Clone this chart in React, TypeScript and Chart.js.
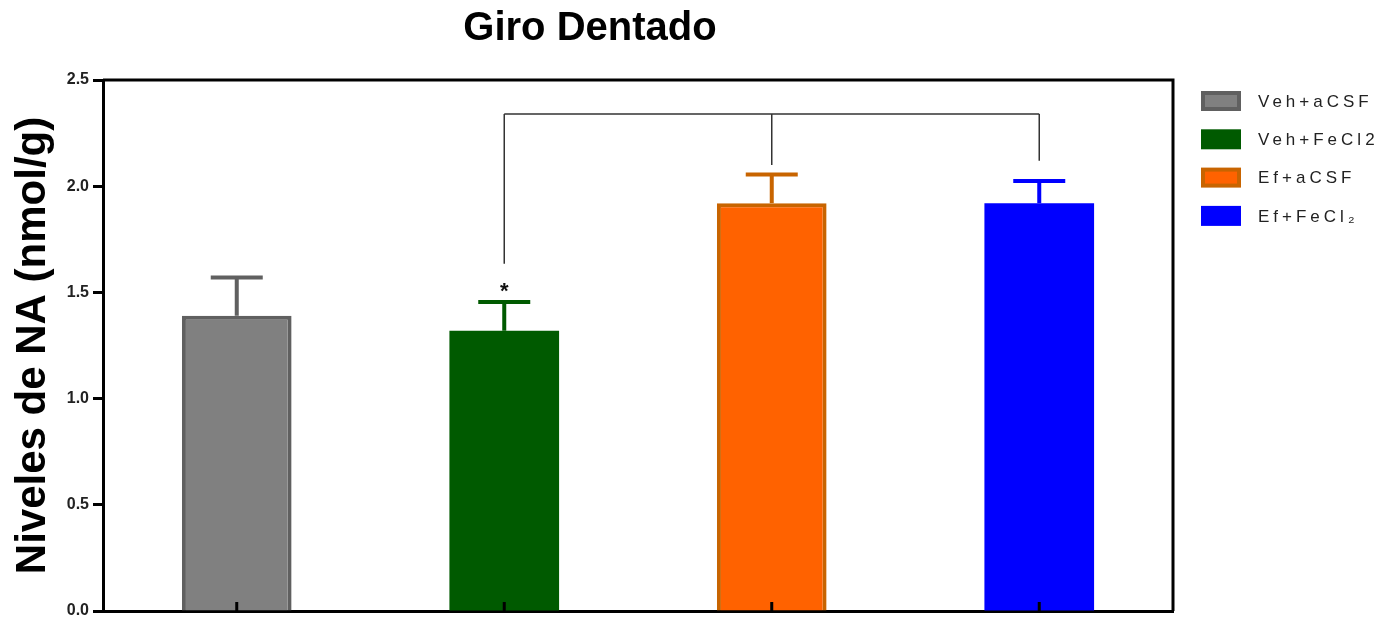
import React, { useEffect, useRef } from "react";
import { Chart, registerables } from "chart.js";
Chart.register(...registerables);

const titleText = "Giro Dentado";
const yTitleText = "Niveles de NA (nmol/g)";
const categories = ["Veh+aCSF", "Veh+FeCl2", "Ef+aCSF", "Ef+FeCl₂"];
const means = [1.39, 1.32, 1.92, 1.92];
const errors = [0.18, 0.135, 0.135, 0.105];
const fillColors = ["#808080", "#005a00", "#ff6200", "#0000ff"];
const borderColors = ["#606060", "#005a00", "#c86400", "#0000ff"];
const borderWidths = [4, 0, 4, 0];
const yMin = 0;
const yMax = 2.5;
const yStep = 0.5;
// significance bracket: from group index 1 to groups 2 and 3
const bracketGroups = [1, 2, 3];
const bracketTop = 2.34;
const bracketLegEnds = [1.635, 2.1, 2.12];
const starLevel = 1.52;

const overlay = {
  id: "overlay",
  afterDatasetsDraw(chart: any) {
    const { ctx, chartArea, scales } = chart;
    const ys = scales.y;
    const meta = chart.getDatasetMeta(0);
    ctx.save();
    // error bars
    meta.data.forEach((bar: any, i: number) => {
      const x = bar.x;
      const y0 = ys.getPixelForValue(means[i]);
      const y1 = ys.getPixelForValue(means[i] + errors[i]);
      ctx.strokeStyle = borderColors[i];
      ctx.lineWidth = 4;
      ctx.lineCap = "butt";
      ctx.beginPath();
      ctx.moveTo(x, y0);
      ctx.lineTo(x, y1);
      ctx.moveTo(x - 26, y1);
      ctx.lineTo(x + 26, y1);
      ctx.stroke();
    });
    // x tick marks (inward)
    ctx.strokeStyle = "#000";
    ctx.lineWidth = 3;
    ctx.beginPath();
    meta.data.forEach((bar: any) => {
      ctx.moveTo(bar.x, chartArea.bottom);
      ctx.lineTo(bar.x, chartArea.bottom - 9);
    });
    ctx.stroke();
    // bracket
    const topY = ys.getPixelForValue(bracketTop);
    const xs = bracketGroups.map((g) => meta.data[g].x);
    ctx.strokeStyle = "#333";
    ctx.lineWidth = 1.5;
    ctx.beginPath();
    ctx.moveTo(xs[0], topY);
    ctx.lineTo(xs[xs.length - 1], topY);
    xs.forEach((x: number, k: number) => {
      ctx.moveTo(x, topY);
      ctx.lineTo(x, ys.getPixelForValue(bracketLegEnds[k]));
    });
    ctx.stroke();
    // star
    ctx.fillStyle = "#111";
    ctx.font = "bold 22px 'Liberation Sans', Arial, sans-serif";
    ctx.textAlign = "center";
    ctx.textBaseline = "middle";
    ctx.fillText("*", xs[0], ys.getPixelForValue(starLevel) + 4);
    // frame top and right
    ctx.strokeStyle = "#000";
    ctx.lineWidth = 3;
    ctx.beginPath();
    ctx.moveTo(chartArea.left, chartArea.top);
    ctx.lineTo(chartArea.right, chartArea.top);
    ctx.lineTo(chartArea.right, chartArea.bottom);
    ctx.stroke();
    // title
    ctx.fillStyle = "#000";
    ctx.font = "bold 40px 'Liberation Sans', Arial, sans-serif";
    ctx.textAlign = "center";
    ctx.textBaseline = "middle";
    ctx.fillText(titleText, 590, 29);
    // legend
    const lx = chartArea.right + 28;
    ctx.font = "17px 'Liberation Sans', Arial, sans-serif";
    (ctx as any).letterSpacing = "4px";
    ctx.textAlign = "left";
    categories.forEach((c, i) => {
      const cy = chartArea.top + 21 + i * 38.3;
      ctx.fillStyle = borderColors[i];
      ctx.fillRect(lx, cy - 10, 40, 20);
      ctx.fillStyle = fillColors[i];
      ctx.fillRect(lx + 4, cy - 6, 32, 12);
      ctx.fillStyle = "#222";
      ctx.fillText(c, lx + 57, cy + 1);
    });
    (ctx as any).letterSpacing = "0px";
    ctx.restore();
  },
};

export default function App() {
  const ref = useRef<HTMLCanvasElement>(null);
  useEffect(() => {
    document.body.style.margin = "0";
    const chart = new Chart(ref.current as HTMLCanvasElement, {
      type: "bar",
      data: {
        labels: categories,
        datasets: [
          {
            data: means,
            backgroundColor: fillColors,
            borderColor: borderColors,
            borderWidth: borderWidths,
            borderSkipped: "bottom",
            barPercentage: 0.41,
            categoryPercentage: 1,
          },
        ],
      },
      options: {
        animation: false,
        responsive: false,
        devicePixelRatio: 1,
        layout: { padding: { top: 80, right: 215, left: 0, bottom: 0 } },
        plugins: {
          legend: { display: false },
          title: { display: false },
          tooltip: { enabled: false },
        },
        scales: {
          x: {
            offset: true,
            grid: {
              display: false,
            },
            border: { display: true, width: 3, color: "#000" },
            ticks: { display: false },
            afterFit: (s: any) => {
              s.height = 10;
            },
          },
          y: {
            min: yMin,
            max: yMax,
            ticks: {
              stepSize: yStep,
              padding: 4,
              color: "#222",
              font: { family: "'Liberation Sans', Arial, sans-serif", size: 16, weight: "bold", lineHeight: 0.5 },
              callback: (v: any) => Number(v).toFixed(1),
            },
            grid: {
              drawOnChartArea: false,
              drawTicks: true,
              tickLength: 10,
              tickWidth: 3,
              tickColor: "#000",
            },
            border: { display: true, width: 3, color: "#000" },
            title: {
              display: true,
              text: yTitleText,
              color: "#000",
              font: { family: "'Liberation Sans', Arial, sans-serif", size: 42, weight: "bold" },
              padding: { top: 8, bottom: 0 },
            },
            afterFit: (s: any) => {
              s.width = 103;
            },
          },
        },
      },
      plugins: [overlay],
    } as any);
    return () => chart.destroy();
  }, []);
  return (
    <div style={{ width: 1388, height: 621 }}>
      <canvas ref={ref} width={1388} height={621} />
    </div>
  );
}
